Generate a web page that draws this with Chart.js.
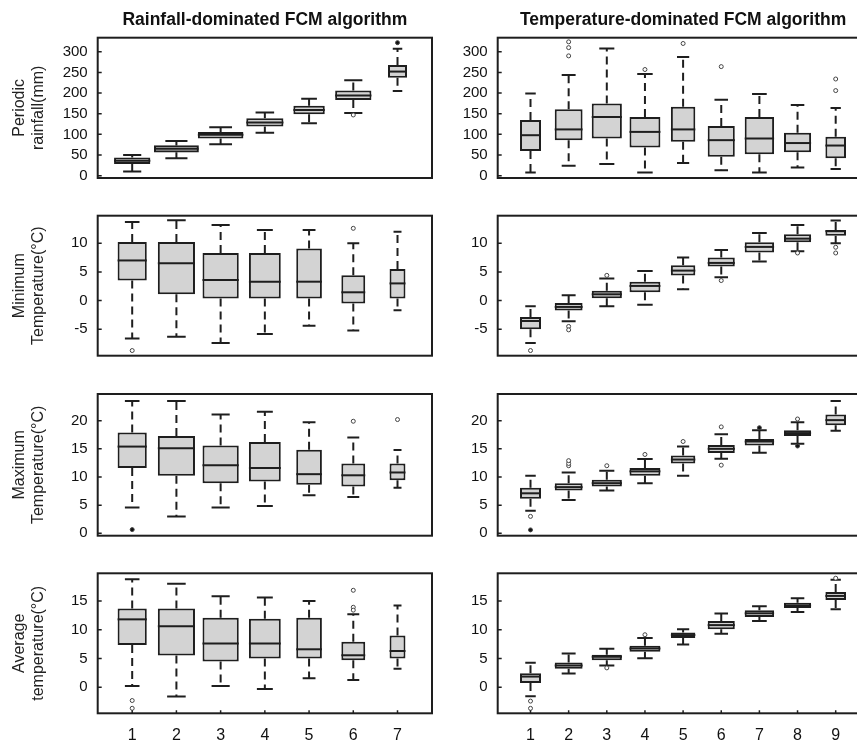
<!DOCTYPE html>
<html>
<head>
<meta charset="utf-8">
<script src="https://cdn.jsdelivr.net/npm/chart.js@4.4.1/dist/chart.umd.min.js"></script>
<style>
  html, body { margin: 0; padding: 0; background: #fff; overflow: hidden; }
  #page { position: relative; width: 857px; height: 741px; overflow: hidden; }
  #page canvas { position: absolute; }
</style>
</head>
<body>
<div id="page"></div>
<script>
// ---- data ----
// clusters on the x axis
const clustersR = [1, 2, 3, 4, 5, 6, 7];
const clustersT = [1, 2, 3, 4, 5, 6, 7, 8, 9];

// each row: [lower whisker, Q1, median, Q3, upper whisker]
const rainfallR = [
  [10, 28, 36, 44, 50],
  [42, 57, 65, 73, 84],
  [76, 90, 99, 106, 117],
  [104, 119, 129, 139, 153],
  [127, 149, 159, 169, 186],
  [152, 183, 194, 206, 231],
  [205, 237, 252, 268, 307]
];
const rainfallT = [
  [8, 60, 98, 135, 199],
  [24, 86, 112, 161, 244],
  [28, 90, 142, 175, 308],
  [8, 68, 106, 142, 246],
  [31, 82, 112, 167, 287],
  [13, 46, 86, 120, 184],
  [8, 52, 90, 142, 198],
  [20, 57, 79, 104, 171],
  [16, 42, 73, 94, 164]
];
const tminR = [
  [-6.6, 3.5, 7.0, 10.2, 13.7],
  [-6.3, 1.1, 6.5, 10.2, 14.0],
  [-7.4, 0.35, 3.6, 8.3, 13.2],
  [-5.8, 0.35, 3.3, 8.3, 12.3],
  [-4.4, 0.35, 3.3, 9.1, 12.3],
  [-5.2, -0.5, 1.45, 4.4, 10.0],
  [-1.7, 0.35, 3.0, 5.5, 12.0]
];
const tminT = [
  [-7.4, -5.0, -3.55, -2.85, -1.0],
  [-3.6, -1.74, -1.1, -0.4, 0.93],
  [-1.0, 0.4, 1.1, 1.74, 3.84],
  [-0.7, 1.45, 2.56, 3.3, 5.17],
  [1.98, 4.36, 5.23, 6.16, 7.5],
  [4.07, 5.93, 6.57, 7.5, 8.84],
  [6.8, 8.37, 9.36, 10.17, 11.8],
  [8.6, 10.17, 10.8, 11.57, 13.2],
  [10.0, 11.3, 12.1, 12.3, 13.95]
];
const tmaxR = [
  [4.6, 11.6, 15.4, 17.9, 23.5],
  [3.0, 10.2, 15.1, 17.3, 23.5],
  [4.6, 8.9, 12.1, 15.6, 21.1],
  [4.85, 9.2, 11.6, 16.2, 21.6],
  [6.75, 8.6, 10.5, 14.85, 19.7],
  [6.45, 8.3, 10.3, 12.4, 17.0],
  [8.1, 9.4, 10.8, 12.4, 14.8]
];
const tmaxT = [
  [4.0, 6.15, 7.1, 8.1, 10.2],
  [5.9, 7.6, 8.2, 8.9, 10.8],
  [7.6, 8.3, 8.9, 9.5, 11.1],
  [8.9, 10.2, 11.0, 11.6, 13.2],
  [10.2, 12.4, 13.1, 13.8, 15.4],
  [13.25, 14.26, 15.0, 15.7, 17.6],
  [14.3, 15.6, 16.3, 16.75, 18.3],
  [15.9, 17.3, 17.8, 18.3, 19.7],
  [18.2, 19.2, 20.1, 21.1, 23.5]
];
const tavgR = [
  [0.23, 7.35, 11.8, 13.7, 18.76],
  [-1.6, 5.5, 10.6, 13.7, 18.0],
  [0.23, 4.46, 7.6, 12.1, 15.8],
  [-0.3, 5.0, 7.6, 11.9, 15.6],
  [1.56, 5.0, 6.6, 12.1, 15.0],
  [1.27, 4.7, 5.56, 7.9, 12.7],
  [3.2, 5.0, 6.3, 9.0, 14.2]
];
const tavgT = [
  [-1.57, 0.76, 1.86, 2.44, 4.24],
  [2.4, 3.2, 3.78, 4.3, 5.87],
  [3.78, 4.7, 5.3, 5.64, 6.69],
  [5.06, 6.16, 6.74, 7.2, 8.55],
  [7.44, 8.55, 9.07, 9.53, 10.06],
  [9.3, 10.06, 10.8, 11.5, 12.8],
  [11.5, 12.2, 12.85, 13.37, 14.07],
  [13.08, 13.78, 14.2, 14.7, 15.47],
  [13.55, 15.17, 15.87, 16.57, 18.66]
];

// outliers per cluster (open points) and overplotted ones (look solid)
const rainfallROut = [[], [], [], [], [], [147], []];
const rainfallRDark = [[], [], [], [], [], [], [322]];
const rainfallTOut = [[], [290, 310, 324], [], [257], [320], [264], [], [], [206, 234]];
const tminROut = [[-8.7], [], [], [], [], [12.6], []];
const tminTOut = [[-8.7], [-4.5, -5.1], [4.4], [], [], [3.5], [], [8.3], [9.3, 8.3]];
const tmaxROut = [[], [], [], [], [], [19.9], [20.2]];
const tmaxRDark = [[0.65], [], [], [], [], [], []];
const tmaxTOut = [[3.0], [12.0, 12.4, 12.9], [12.0], [14.0], [16.3], [18.9, 12.1], [], [20.3], []];
const tmaxTDark = [[0.6], [], [], [], [], [], [18.75], [15.5], []];
const tavgROut = [[-2.3, -3.65], [], [], [], [], [16.85, 13.9, 13.4], []];
const tavgTOut = [[-2.4, -3.66], [], [3.37], [9.13], [], [], [], [], [18.95]];

// ---- styling ----
Chart.defaults.font.family = "'Liberation Sans', Arial, sans-serif";
Chart.defaults.color = '#111';

// box widths (fraction of the cluster spacing)
const boxWexR1 = [0.82, 1.0, 1.03, 0.84, 0.71, 0.82, 0.43];
const boxWexR = [0.66, 0.84, 0.82, 0.72, 0.58, 0.54, 0.36];
const boxWexT = [0.55, 0.73, 0.79, 0.81, 0.64, 0.71, 0.77, 0.71, 0.54];

const INK = '#1e1e1e';

// whiskers, caps, medians, frame and inward ticks
const boxExtras = {
  id: 'boxExtras',
  beforeDatasetsDraw(chart) {
    const ctx = chart.ctx;
    const y = chart.scales.y;
    ctx.save();
    ctx.strokeStyle = INK;
    ctx.lineWidth = 2;
    chart.data.datasets.forEach((ds, i) => {
      if (!ds.box) return;
      const bar = chart.getDatasetMeta(i).data[0];
      const [lo, q1, , q3, hi] = ds.box;
      const cap = bar.width * 0.25;
      ctx.setLineDash([8, 5]);
      ctx.beginPath();
      ctx.moveTo(bar.x, y.getPixelForValue(q3));
      ctx.lineTo(bar.x, y.getPixelForValue(hi));
      ctx.moveTo(bar.x, y.getPixelForValue(q1));
      ctx.lineTo(bar.x, y.getPixelForValue(lo));
      ctx.stroke();
      ctx.setLineDash([]);
      ctx.beginPath();
      ctx.moveTo(bar.x - cap, y.getPixelForValue(hi));
      ctx.lineTo(bar.x + cap, y.getPixelForValue(hi));
      ctx.moveTo(bar.x - cap, y.getPixelForValue(lo));
      ctx.lineTo(bar.x + cap, y.getPixelForValue(lo));
      ctx.stroke();
    });
    ctx.restore();
  },
  afterDatasetsDraw(chart) {
    const ctx = chart.ctx;
    const y = chart.scales.y;
    ctx.save();
    ctx.strokeStyle = INK;
    ctx.lineWidth = 2;
    chart.data.datasets.forEach((ds, i) => {
      if (!ds.box) return;
      const bar = chart.getDatasetMeta(i).data[0];
      const py = y.getPixelForValue(ds.box[2]);
      ctx.beginPath();
      ctx.moveTo(bar.x - bar.width / 2, py);
      ctx.lineTo(bar.x + bar.width / 2, py);
      ctx.stroke();
    });
    ctx.restore();
  },
  afterDraw(chart) {
    const {ctx, chartArea: a} = chart;
    ctx.save();
    ctx.strokeStyle = INK;
    ctx.lineWidth = 2;
    ctx.strokeRect(a.left, a.top, a.right - a.left, a.bottom - a.top);
    ctx.lineWidth = 1.5;
    ctx.beginPath();
    chart.scales.y.ticks.forEach((t, i) => {
      const py = chart.scales.y.getPixelForTick(i);
      ctx.moveTo(a.left, py);
      ctx.lineTo(a.left + 4, py);
    });
    if (chart.options.scales.x.ticks.display) {
      chart.scales.x.ticks.forEach((t, i) => {
        const px = chart.scales.x.getPixelForTick(i);
        ctx.moveTo(px, a.bottom);
        ctx.lineTo(px, a.bottom - 3);
      });
    }
    ctx.stroke();
    ctx.restore();
  }
};

function makePanel(p) {
  const left = p.col === 'R';
  const clusters = left ? clustersR : clustersT;
  const canvasLeft = left ? 0 : 440;
  const canvasW = 440;
  const yAxisW = left ? 97.7 : 57.7;
  const padRight = left ? 8 : 11.5;
  const xAxisH = p.showX ? 27.7 : 0;

  const canvas = document.createElement('canvas');
  canvas.width = canvasW;
  canvas.height = p.height;
  canvas.style.left = canvasLeft + 'px';
  canvas.style.top = p.top + 'px';
  document.getElementById('page').appendChild(canvas);

  const datasets = p.stats.map((s, i) => ({
    type: 'bar',
    data: [{x: clusters[i], y: [s[1], s[3]]}],
    box: s,
    grouped: false,
    categoryPercentage: 1,
    barPercentage: p.wex[i],
    backgroundColor: '#d3d3d3',
    borderColor: INK,
    borderWidth: 2,
    borderSkipped: false,
    order: 1
  }));

  const pts = [];
  p.out.forEach((vals, i) => vals.forEach(v => pts.push({x: clusters[i], y: v, dark: false})));
  (p.dark || []).forEach((vals, i) => vals.forEach(v => pts.push({x: clusters[i], y: v, dark: true})));
  datasets.push({
    type: 'scatter',
    data: pts,
    order: 0,
    pointRadius: 2,
    pointBorderWidth: 1,
    pointBorderColor: '#444',
    pointBackgroundColor: c => (c.raw && c.raw.dark) ? '#111' : '#fff'
  });

  const titleTop = p.head ? 0 : p.plotTop - p.top;

  new Chart(canvas, {
    type: 'bar',
    data: {datasets},
    plugins: [boxExtras],
    options: {
      responsive: false,
      animation: false,
      layout: {
        padding: {
          left: 0,
          right: padRight,
          top: titleTop,
          bottom: p.top + p.height - p.plotBottom - xAxisH
        }
      },
      plugins: {
        legend: {display: false},
        tooltip: {enabled: false},
        title: {
          display: !!p.head,
          text: p.head || '',
          fullSize: false,
          color: '#111',
          font: {size: 17.5, weight: 'bold'},
          padding: {top: 9.2, bottom: 7.5}
        }
      },
      scales: {
        x: {
          type: 'linear',
          offset: false,
          min: left ? 0.22 : 0.14,
          max: left ? 7.78 : 9.86,
          grid: {display: false, drawTicks: false, offset: false},
          border: {display: false},
          ticks: {
            display: !!p.showX,
            stepSize: 1,
            includeBounds: false,
            padding: 13,
            font: {size: 16},
            color: '#111'
          },
          afterFit(scale) {
            scale.height = xAxisH;
            scale.paddingLeft = 0;
            scale.paddingRight = 0;
          }
        },
        y: {
          min: p.yMin,
          max: p.yMax,
          grid: {display: false, drawTicks: false},
          border: {display: false},
          ticks: {
            stepSize: p.step,
            includeBounds: false,
            padding: 10,
            font: {size: 15},
            color: '#111'
          },
          title: {
            display: left,
            text: p.yTitle,
            color: '#222',
            font: {size: 16},
            padding: {top: 10, bottom: 0}
          },
          afterFit(scale) {
            scale.width = yAxisW;
            scale.paddingTop = 0;
            scale.paddingBottom = 0;
          }
        }
      }
    }
  });
}

const rows = [
  {top: 0, height: 190, plotTop: 37.7, plotBottom: 178, yMin: -5.6, yMax: 334, step: 50},
  {top: 190, height: 180, plotTop: 215.7, plotBottom: 355.7, yMin: -9.6, yMax: 14.8, step: 5},
  {top: 370, height: 180, plotTop: 394, plotBottom: 535.7, yMin: -0.43, yMax: 24.74, step: 5},
  {top: 550, height: 191, plotTop: 573.3, plotBottom: 713.3, yMin: -4.52, yMax: 19.8, step: 5, showX: true}
];

const panels = [
  {row: 0, col: 'R', stats: rainfallR, out: rainfallROut, dark: rainfallRDark, wex: boxWexR1,
   head: 'Rainfall-dominated FCM algorithm', yTitle: ['Periodic', 'rainfall(mm)']},
  {row: 0, col: 'T', stats: rainfallT, out: rainfallTOut, wex: boxWexT,
   head: 'Temperature-dominated FCM algorithm'},
  {row: 1, col: 'R', stats: tminR, out: tminROut, wex: boxWexR, yTitle: ['Minimum', 'Temperature(°C)']},
  {row: 1, col: 'T', stats: tminT, out: tminTOut, wex: boxWexT},
  {row: 2, col: 'R', stats: tmaxR, out: tmaxROut, dark: tmaxRDark, wex: boxWexR, yTitle: ['Maximum', 'Temperature(°C)']},
  {row: 2, col: 'T', stats: tmaxT, out: tmaxTOut, dark: tmaxTDark, wex: boxWexT},
  {row: 3, col: 'R', stats: tavgR, out: tavgROut, wex: boxWexR, yTitle: ['Average', 'temperature(°C)']},
  {row: 3, col: 'T', stats: tavgT, out: tavgTOut, wex: boxWexT}
];

panels.forEach(p => makePanel(Object.assign({}, rows[p.row], p)));
</script>
</body>
</html>
